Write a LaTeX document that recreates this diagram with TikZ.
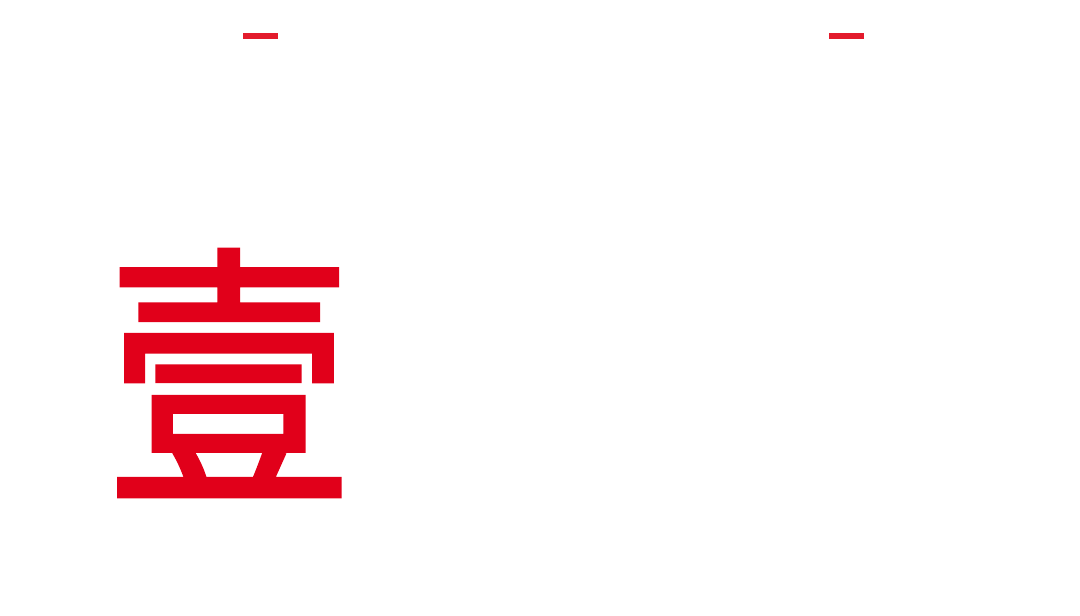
\documentclass[tikz,border=0pt]{standalone}
\usepackage{fontspec}
\newfontfamily\cjk[FakeBold=1.6]{Noto Sans CJK SC}
\definecolor{barred}{HTML}{E31B2C}
\definecolor{charred}{HTML}{E1001A}
\tikzset{
  topbar/.style={fill=barred, draw=none},
  bigchar/.style={inner sep=0pt, text=charred, xscale=0.89, font=\cjk\fontsize{276pt}{276pt}\selectfont}
}
\begin{document}
\begin{tikzpicture}[x=1pt,y=-1pt]
\useasboundingbox[fill=white] (0,0) rectangle (1080,616);
\fill[topbar] (243,33) rectangle (278,39);
\fill[topbar] (829,33) rectangle (864,39);
\node[bigchar] (zi) at (229,373) {壹};
\end{tikzpicture}
\end{document}
